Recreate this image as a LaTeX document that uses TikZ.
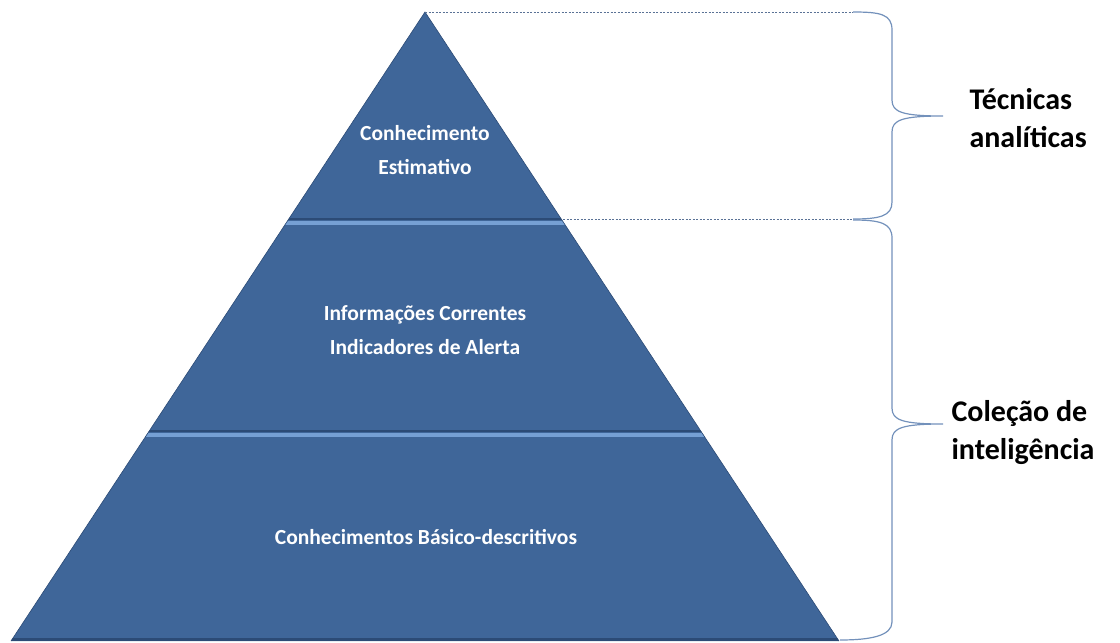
\documentclass[tikz,border=0pt]{standalone}
\usepackage{fontspec}
\setmainfont{Carlito}
\definecolor{pyrfill}{HTML}{3F6699}
\definecolor{pyrdark}{HTML}{2C4B76}
\definecolor{pyrlight}{HTML}{76A0D4}
\definecolor{bracecol}{HTML}{7391BB}
\definecolor{guidecol}{HTML}{5A7296}
\begin{document}
\begin{tikzpicture}[x=1pt,y=-1pt,
  lvl/.style={text=white,align=center,font=\fontsize{21.5}{34}\selectfont\bfseries},
  side/.style={anchor=west,align=left,font=\fontsize{30}{38}\selectfont\bfseries},
  guide/.style={guidecol,line width=.8pt,dash pattern=on 2pt off 1.5pt},
  brc/.style={bracecol,line width=1.2pt}]
\useasboundingbox (0,0) rectangle (1120,643);
\coordinate (apex) at (425,12);
\coordinate (bl) at (11,641);
\coordinate (br) at (839,641);
\fill[pyrfill] (apex) -- (br) -- (bl) -- cycle;
\begin{scope}
\clip (apex) -- (br) -- (bl) -- cycle;
\foreach \y in {220,432}{
  \fill[pyrdark] (0,\y-2.5) rectangle (1120,\y);
  \fill[pyrlight] (0,\y+1) rectangle (1120,\y+4.5);
}
\fill[pyrdark] (0,637.5) rectangle (1120,641);
\end{scope}
\draw[pyrdark,line width=.6pt] (bl) -- (apex) -- (br);
\node[lvl] (estimativo) at (425,150) {Conhecimento\\Estimativo};
\node[lvl] (correntes) at (425,330) {Informações Correntes\\Indicadores de Alerta};
\node[lvl] (basicos) at (426,537) {Conhecimentos Básico-descritivos};
\coordinate (sep1) at (563,219);
\coordinate (b1top) at (853,12);
\coordinate (b1tip) at (943,116);
\coordinate (b1bot) at (853,219);
\coordinate (b2top) at (853,220);
\coordinate (b2tip) at (943,424);
\coordinate (b2bot) at (840,640);
\draw[guide] (apex) -- (b1top);
\draw[guide] (sep1) -- (b1bot);
\draw[brc] (b1top) .. controls (880,12) and (892,14) .. (892,30) -- (892,100)
  .. controls (892,112) and (902,116) .. (b1tip)
  .. controls (902,116) and (892,120) .. (892,132) -- (892,202)
  .. controls (892,216) and (880,219) .. (b1bot);
\draw[brc] (b2top) .. controls (880,220) and (892,223) .. (892,238) -- (892,408)
  .. controls (892,420) and (902,424) .. (b2tip)
  .. controls (902,424) and (892,428) .. (892,440) -- (892,622)
  .. controls (892,636) and (870,640) .. (b2bot);
\node[side] (tecnicas) at (966,118) {Técnicas\\analíticas};
\node[side] (colecao) at (948,433) {Coleção de\\inteligência};
\end{tikzpicture}
\end{document}
